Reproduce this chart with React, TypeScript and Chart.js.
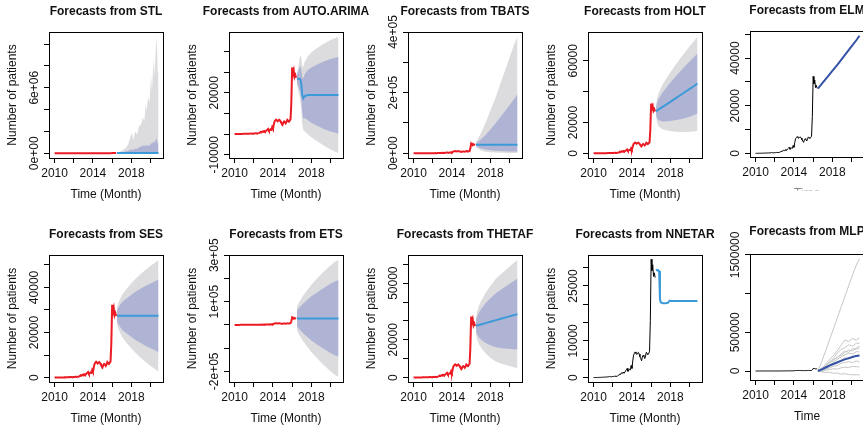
import React, { useEffect, useRef } from "react";
import { Chart, registerables } from "chart.js";
Chart.register(...registerables);

// ---------------- data ----------------
const X_TICKS = [2010, 2012, 2014, 2016, 2018, 2020];
const X_TICK_LABELS = ["2010", "", "2014", "", "2018", ""];

// monthly history, Jan 2010 .. Jun 2016
const HISTORY = [
  0, 0, 10, 20, 30, 30, 40, 50, 60, 60, 80, 100,
  100, 120, 120, 150, 150, 180, 200, 220, 300, 250, 200, 250,
  300, 280, 350, 400, 300, 350, 450, 600, 800, 1000, 900, 1300,
  1100, 1500, 1200, 1400, 1800, 2100, 2500, 1700, 1900, 2300, 2100, 3300,
  2500, 4500, 6100, 6600, 7000, 6600, 6300, 6700, 6900, 6400, 5700, 5200,
  4600, 5600, 6100, 5800, 5200, 5900, 6900, 6500, 6300, 6600, 7200, 15500,
  32300, 29200, 30800, 27600, 28600, 27300,
];
const HIST_T = HISTORY.map((_, i) => 2010 + i / 12);

// STL
const STL_T = [2016.5, 2016.8, 2017.2, 2017.5, 2017.7, 2017.9, 2018.05, 2018.2, 2018.4, 2018.6, 2018.8, 2019.0, 2019.2, 2019.35, 2019.5, 2019.6, 2019.75, 2019.9, 2020.05, 2020.15, 2020.3, 2020.4, 2020.55, 2020.65, 2020.75, 2020.83];
const STL_HI95 = [50000, 150000, 350000, 550000, 900000, 1500000, 1900000, 1200000, 2000000, 1700000, 2500000, 2600000, 3300000, 2900000, 4500000, 3900000, 5200000, 4600000, 7200000, 5600000, 8600000, 7000000, 9600000, 10660000, 7400000, 7500000];
const STL_HI80 = [40000, 80000, 120000, 180000, 250000, 300000, 380000, 300000, 450000, 400000, 550000, 600000, 720000, 650000, 780000, 700000, 720000, 680000, 950000, 850000, 1100000, 950000, 1250000, 1350000, 900000, 900000];
const STL_LO80 = [20000, 18000, 16000, 15000, 14000, 13000, 12000, 12000, 11000, 11000, 10000, 10000, 9000, 9000, 8000, 8000, 8000, 7000, 7000, 7000, 6000, 6000, 6000, 5000, 5000, 5000];
const STL_LO95 = [15000, 12000, 9000, 7000, 6000, 5000, 4000, 4000, 3000, 3000, 3000, 2000, 2000, 2000, 2000, 2000, 1000, 1000, 1000, 1000, 1000, 1000, 1000, 1000, 1000, 1000];
const STL_MEAN_T = [2016.5, 2020.83];
const STL_MEAN = [28000, 28000];
const STL_YTICKS = [0, 2000000, 4000000, 6000000, 8000000, 10000000];
const STL_YLABELS = ["0e+00", "", "", "6e+06", "", ""];

// AUTO.ARIMA
const ARIMA_T = [2016.5, 2016.62, 2016.75, 2016.85, 2016.95, 2017.05, 2017.15, 2017.3, 2017.6, 2018.0, 2018.6, 2019.3, 2020.0, 2020.83];
const ARIMA_MEAN = [26900, 26800, 26700, 26600, 24500, 19000, 17300, 18400, 18900, 18900, 18900, 18900, 18900, 18900];
const ARIMA_HI95 = [29500, 32000, 36000, 38200, 37000, 33000, 32500, 35000, 37500, 39500, 41800, 43800, 45600, 47200];
const ARIMA_LO95 = [24300, 21600, 18500, 16000, 12000, 5000, 2100, 1300, 0, -1500, -3500, -5500, -7500, -9300];
const ARIMA_HI80 = [28600, 30300, 32000, 33000, 31500, 27500, 27000, 29000, 31000, 32300, 33800, 35200, 36400, 37500];
const ARIMA_LO80 = [25200, 23300, 21500, 20000, 17000, 10500, 7600, 7800, 6800, 5500, 4000, 2500, 1300, 300];
const ARIMA_YTICKS = [-10000, 0, 10000, 20000, 30000, 40000];
const ARIMA_YLABELS = ["-10000", "", "", "20000", "", ""];

// TBATS
const TBATS_T = [2016.5, 2017.0, 2017.5, 2018.0, 2018.5, 2019.0, 2019.5, 2020.0, 2020.5, 2020.83];
const TBATS_MEAN = [27800, 27800, 27800, 27800, 27800, 27800, 27800, 27800, 27800, 27800];
const TBATS_HI95 = [36000, 65000, 100000, 140000, 180000, 225000, 270000, 315000, 360000, 385000];
const TBATS_HI80 = [32000, 45000, 60000, 78000, 97000, 117000, 138000, 158000, 180000, 195000];
const TBATS_LO80 = [24000, 16000, 12000, 9500, 8000, 7000, 6300, 5800, 5400, 5200];
const TBATS_LO95 = [21000, 9000, 5000, 3200, 2300, 1700, 1300, 1000, 800, 700];
const TBATS_YTICKS = [0, 100000, 200000, 300000, 400000];
const TBATS_YLABELS = ["0e+00", "", "2e+05", "", "4e+05"];

// HOLT
const HOLT_T = [2016.5, 2016.6, 2016.8, 2017.2, 2017.8, 2018.5, 2019.3, 2020.1, 2020.83];
const HOLT_MEAN = [27300, 27700, 28500, 30100, 32600, 35500, 38800, 42100, 45300];
const HOLT_HI95 = [29500, 35200, 39500, 44600, 50600, 57000, 63800, 70100, 75700];
const HOLT_LO95 = [25100, 20200, 17500, 15600, 14600, 14000, 13800, 14100, 14500];
const HOLT_HI80 = [28700, 32600, 35600, 39500, 44300, 49500, 55100, 60300, 64800];
const HOLT_LO80 = [25900, 22800, 21400, 20700, 20900, 21500, 22500, 23900, 25800];
const HOLT_YTICKS = [0, 20000, 40000, 60000];
const HOLT_YLABELS = ["0", "20000", "", "60000"];

// ELM
const ELM_T = [2016.5, 2017.0, 2017.5, 2018.0, 2018.5, 2019.0, 2019.5, 2020.0, 2020.5, 2020.83];
const ELM_MEAN = [27200, 29700, 32100, 34600, 37100, 39700, 42300, 44900, 47500, 49400];
const ELM_YTICKS = [0, 10000, 20000, 30000, 40000, 50000];
const ELM_YLABELS = ["0", "", "20000", "", "40000", ""];

// SES
const SES_T = [2016.5, 2016.58, 2016.67, 2016.83, 2017.0, 2017.25, 2017.5, 2018.0, 2018.5, 2019.0, 2019.5, 2020.0, 2020.5, 2020.83];
const SES_HI95 = [30800, 32200, 33300, 35000, 36400, 38000, 39300, 41900, 44100, 46100, 47900, 49600, 51100, 52200];
const SES_LO95 = [24000, 22600, 21500, 19800, 18400, 16800, 15500, 12900, 10700, 8700, 6900, 5200, 3700, 2600];
const SES_HI80 = [29600, 30500, 31200, 32300, 33300, 34300, 35100, 36800, 38300, 39500, 40800, 41800, 42800, 43500];
const SES_LO80 = [25200, 24300, 23600, 22500, 21500, 20500, 19700, 18000, 16500, 15300, 14000, 13000, 12000, 11300];
const SES_MEAN_T = [2016.5, 2020.83];
const SES_MEAN = [27400, 27400];
const SES_YTICKS = [0, 10000, 20000, 30000, 40000, 50000];
const SES_YLABELS = ["0", "", "20000", "", "40000", ""];

// ETS
const ETS_T = [2016.5, 2016.6, 2016.8, 2017.1, 2017.5, 2018.0, 2018.6, 2019.2, 2019.9, 2020.4, 2020.83];
const ETS_HI95 = [78000, 88000, 103000, 123000, 146000, 173000, 200000, 226000, 253000, 270000, 281000];
const ETS_LO95 = [-22000, -32000, -47000, -67000, -90000, -117000, -144000, -170000, -197000, -214000, -225000];
const ETS_HI80 = [61000, 67000, 77000, 90000, 105000, 123000, 140000, 157000, 175000, 186000, 193000];
const ETS_LO80 = [-5000, -11000, -21000, -34000, -49000, -67000, -84000, -101000, -119000, -130000, -137000];
const ETS_MEAN_T = [2016.5, 2020.83];
const ETS_MEAN = [28000, 28000];
const ETS_YTICKS = [-200000, -100000, 0, 100000, 200000, 300000];
const ETS_YLABELS = ["-2e+05", "", "", "1e+05", "", "3e+05"];

// THETAF
const THETA_T = [2016.5, 2016.6, 2016.8, 2017.1, 2017.5, 2018.0, 2018.6, 2019.2, 2019.9, 2020.4, 2020.83];
const THETA_MEAN = [27400, 27550, 27830, 28260, 28830, 29550, 30400, 31260, 32260, 32980, 33600];
const THETA_HI95 = [30900, 34550, 37830, 41260, 44830, 48550, 52400, 55260, 58260, 60480, 62300];
const THETA_LO95 = [23900, 20550, 17830, 15260, 12830, 10550, 8400, 7260, 6260, 5480, 4900];
const THETA_HI80 = [29700, 32150, 34330, 36760, 39330, 41950, 44800, 46960, 49260, 50980, 52400];
const THETA_LO80 = [25100, 22950, 21330, 19760, 18330, 17150, 16000, 15560, 15260, 14980, 14800];
const THETA_YTICKS = [0, 10000, 20000, 30000, 40000, 50000, 60000];
const THETA_YLABELS = ["0", "", "20000", "", "", "50000", ""];

// NNETAR
const NNETAR_T = [2016.5, 2016.58, 2016.67, 2016.75, 2016.83, 2016.92, 2017.0, 2017.25, 2017.5, 2017.75, 2017.83, 2017.92, 2018.0, 2018.5, 2019.0, 2019.5, 2020.0, 2020.5, 2020.83];
const NNETAR_MEAN = [29300, 29400, 29200, 29300, 29100, 21500, 20500, 20300, 20300, 20400, 20700, 21000, 20900, 20900, 20900, 20900, 20900, 20900, 20900];
const NNETAR_YTICKS = [0, 5000, 10000, 15000, 20000, 25000, 30000];
const NNETAR_YLABELS = ["0", "", "10000", "", "", "25000", ""];

// MLP
const MLP_T = [2016.5, 2016.9, 2017.3, 2017.7, 2018.1, 2018.5, 2018.9, 2019.3, 2019.7, 2020.1, 2020.5, 2020.83];
const MLP_MEMBERS = [
  [0, 120000, 260000, 400000, 540000, 680000, 820000, 960000, 1100000, 1240000, 1370000, 1450000],
  [0, 30000, 90000, 150000, 200000, 260000, 330000, 400000, 380000, 420000, 400000, 430000],
  [0, 20000, 60000, 120000, 160000, 230000, 280000, 300000, 340000, 320000, 360000, 355000],
  [0, 40000, 50000, 100000, 150000, 170000, 220000, 260000, 240000, 290000, 280000, 300000],
  [0, 10000, 40000, 80000, 110000, 150000, 180000, 210000, 230000, 220000, 250000, 246000],
  [0, 15000, 30000, 60000, 90000, 120000, 140000, 170000, 160000, 190000, 200000, 205000],
  [0, 5000, 20000, 40000, 60000, 70000, 100000, 110000, 120000, 110000, 130000, 117000],
  [0, -5000, 10000, 20000, 30000, 25000, 40000, 50000, 45000, 60000, 55000, 52000],
  [0, -10000, -20000, -15000, -30000, -25000, -40000, -35000, -45000, -50000, -48000, -51000],
  [0, 25000, 70000, 110000, 130000, 180000, 200000, 240000, 270000, 260000, 300000, 320000],
];
const MLP_MEAN = [0, 20000, 45000, 70000, 90000, 110000, 130000, 150000, 165000, 180000, 195000, 200000];
const MLP_YTICKS = [0, 500000, 1000000, 1500000];
const MLP_YLABELS = ["0", "500000", "", "1500000"];

// ---------------- styles ----------------
const RED = "#ec1c24";
const FC_BLUE = "#3d9ad8";
const NN_BLUE = "#3553a6";
const BAND80 = "#b0b4d4";
const BAND95 = "#dcdcdf";
const MEMBER = "#c6c6c6";
const X_MIN = 2009.42;
const X_MAX = 2021.3;
const FONT = '"Liberation Sans", Arial, sans-serif';

interface Line { t: number[]; v: number[]; color: string; width: number; }
interface Band { t: number[]; lo: number[]; hi: number[]; color: string; }
interface PanelCfg {
  title: string; xlab: string; ylab: string;
  boxLeft: number; boxTop: number; boxBottom: number; canvasTop: number;
  ymin: number; ymax: number; yticks: number[]; ylabels: string[];
  bands: Band[]; lines: Line[];
  titleOffset?: number; xlabClip?: number;
}

const hist = (color: string, width: number): Line => ({ t: HIST_T, v: HISTORY, color, width });
const bands = (t: number[], lo95: number[], hi95: number[], lo80: number[], hi80: number[]): Band[] => [
  { t, lo: lo95, hi: hi95, color: BAND95 },
  { t, lo: lo80, hi: hi80, color: BAND80 },
];

const COLS = [49, 229, 408, 588, 750];

const PANELS: PanelCfg[] = [
  {
    title: "Forecasts from STL", xlab: "Time (Month)", ylab: "Number of patients",
    boxLeft: COLS[0], boxTop: 32, boxBottom: 158, canvasTop: 0,
    ymin: -430000, ymax: 11100000, yticks: STL_YTICKS, ylabels: STL_YLABELS,
    bands: bands(STL_T, STL_LO95, STL_HI95, STL_LO80, STL_HI80),
    lines: [hist(RED, 2), { t: STL_MEAN_T, v: STL_MEAN, color: FC_BLUE, width: 2 }],
  },
  {
    title: "Forecasts from AUTO.ARIMA", xlab: "Time (Month)", ylab: "Number of patients",
    boxLeft: COLS[1], boxTop: 32, boxBottom: 158, canvasTop: 0,
    ymin: -11600, ymax: 49500, yticks: ARIMA_YTICKS, ylabels: ARIMA_YLABELS,
    bands: bands(ARIMA_T, ARIMA_LO95, ARIMA_HI95, ARIMA_LO80, ARIMA_HI80),
    lines: [hist(RED, 2), { t: ARIMA_T, v: ARIMA_MEAN, color: FC_BLUE, width: 2 }],
  },
  {
    title: "Forecasts from TBATS", xlab: "Time (Month)", ylab: "Number of patients",
    boxLeft: COLS[2], boxTop: 32, boxBottom: 158, canvasTop: 0,
    ymin: -15700, ymax: 400000, yticks: TBATS_YTICKS, ylabels: TBATS_YLABELS,
    bands: bands(TBATS_T, TBATS_LO95, TBATS_HI95, TBATS_LO80, TBATS_HI80),
    lines: [hist(RED, 2), { t: TBATS_T, v: TBATS_MEAN, color: FC_BLUE, width: 2 }],
  },
  {
    title: "Forecasts from HOLT", xlab: "Time (Month)", ylab: "Number of patients",
    boxLeft: COLS[3], boxTop: 32, boxBottom: 158, canvasTop: 0,
    ymin: -3000, ymax: 78700, yticks: HOLT_YTICKS, ylabels: HOLT_YLABELS,
    bands: bands(HOLT_T, HOLT_LO95, HOLT_HI95, HOLT_LO80, HOLT_HI80),
    lines: [hist(RED, 2), { t: HOLT_T, v: HOLT_MEAN, color: FC_BLUE, width: 2 }],
  },
  {
    title: "Forecasts from ELM", xlab: "Time", ylab: "",
    boxLeft: COLS[4], boxTop: 31, boxBottom: 157, canvasTop: 0,
    ymin: -1550, ymax: 51400, yticks: ELM_YTICKS, ylabels: ELM_YLABELS,
    bands: [],
    lines: [hist("#000", 1), { t: ELM_T, v: ELM_MEAN, color: NN_BLUE, width: 2 }],
    xlabClip: 190.5,
  },
  {
    title: "Forecasts from SES", xlab: "Time (Month)", ylab: "Number of patients",
    boxLeft: COLS[0], boxTop: 255, boxBottom: 382, canvasTop: 214,
    ymin: -1950, ymax: 54400, yticks: SES_YTICKS, ylabels: SES_YLABELS,
    bands: bands(SES_T, SES_LO95, SES_HI95, SES_LO80, SES_HI80),
    lines: [hist(RED, 2), { t: SES_MEAN_T, v: SES_MEAN, color: FC_BLUE, width: 2 }],
  },
  {
    title: "Forecasts from ETS", xlab: "Time (Month)", ylab: "Number of patients",
    boxLeft: COLS[1], boxTop: 255, boxBottom: 382, canvasTop: 214,
    ymin: -246000, ymax: 301000, yticks: ETS_YTICKS, ylabels: ETS_YLABELS,
    bands: bands(ETS_T, ETS_LO95, ETS_HI95, ETS_LO80, ETS_HI80),
    lines: [hist(RED, 2), { t: ETS_MEAN_T, v: ETS_MEAN, color: FC_BLUE, width: 2 }],
  },
  {
    title: "Forecasts from THETAF", xlab: "Time (Month)", ylab: "Number of patients",
    boxLeft: COLS[2], boxTop: 255, boxBottom: 382, canvasTop: 214,
    ymin: -2350, ymax: 64900, yticks: THETA_YTICKS, ylabels: THETA_YLABELS,
    bands: bands(THETA_T, THETA_LO95, THETA_HI95, THETA_LO80, THETA_HI80),
    lines: [hist(RED, 2), { t: THETA_T, v: THETA_MEAN, color: FC_BLUE, width: 2 }],
  },
  {
    title: "Forecasts from NNETAR", xlab: "Time (Month)", ylab: "Number of patients",
    boxLeft: COLS[3], boxTop: 255, boxBottom: 382, canvasTop: 214,
    ymin: -1210, ymax: 33460, yticks: NNETAR_YTICKS, ylabels: NNETAR_YLABELS,
    bands: [],
    lines: [hist("#000", 1), { t: NNETAR_T, v: NNETAR_MEAN, color: FC_BLUE, width: 2 }],
  },
  {
    title: "Forecasts from MLP", xlab: "Time", ylab: "",
    boxLeft: COLS[4], boxTop: 254, boxBottom: 380, canvasTop: 214,
    ymin: -116280, ymax: 1511700, yticks: MLP_YTICKS, ylabels: MLP_YLABELS,
    bands: [],
    lines: [
      hist("#000", 1),
      ...MLP_MEMBERS.map((m) => ({ t: MLP_T, v: m, color: MEMBER, width: 1 })),
      { t: MLP_T, v: MLP_MEAN, color: NN_BLUE, width: 2 },
    ],
    titleOffset: 22,
  },
];

const CW = 205;
const CH = 214;
const BOX_W = 114;

function pts(t: number[], v: number[]) {
  return t.map((x, i) => ({ x, y: v[i] }));
}

function buildDatasets(p: PanelCfg) {
  const ds: any[] = [];
  p.bands.forEach((b) => {
    const loIdx = ds.length;
    ds.push({ data: pts(b.t, b.lo), borderColor: "rgba(0,0,0,0)", borderWidth: 1, pointRadius: 0, fill: false });
    ds.push({ data: pts(b.t, b.hi), borderColor: "rgba(0,0,0,0)", borderWidth: 1, pointRadius: 0, fill: loIdx, backgroundColor: b.color });
  });
  p.lines.forEach((l) => {
    ds.push({ data: pts(l.t, l.v), borderColor: l.color, borderWidth: l.width, pointRadius: 0, fill: false, tension: 0 });
  });
  const n = ds.length;
  ds.forEach((d, i) => { d.order = n - i; });
  return ds;
}

function makeTextPlugin(p: PanelCfg) {
  return {
    id: "rtext",
    afterDraw(chart: any) {
      const { ctx, chartArea: a, scales } = chart;
      const xs = scales.x, ys = scales.y;
      const al = (v: number) => Math.round(v - 0.5) + 0.5;
      ctx.save();
      ctx.strokeStyle = "#000";
      ctx.lineWidth = 1;
      ctx.strokeRect(al(a.left), al(a.top), al(a.right) - al(a.left), al(a.bottom) - al(a.top));
      ctx.fillStyle = "#111";
      ctx.textBaseline = "middle";
      ctx.textAlign = "center";
      const cx = (a.left + a.right) / 2;
      const cy = (a.top + a.bottom) / 2;
      ctx.font = `bold 12px ${FONT}`;
      ctx.fillText(p.title, cx, a.top - (p.titleOffset ?? 20));
      ctx.font = `12px ${FONT}`;
      X_TICKS.forEach((v, i) => {
        const lab = X_TICK_LABELS[i];
        if (lab) ctx.fillText(lab, xs.getPixelForValue(v), a.bottom + 15.5);
      });
      p.yticks.forEach((v, i) => {
        const lab = p.ylabels[i];
        if (!lab) return;
        ctx.save();
        ctx.translate(a.left - 14, ys.getPixelForValue(v));
        ctx.rotate(-Math.PI / 2);
        ctx.fillText(lab, 0, 0);
        ctx.restore();
      });
      if (p.ylab) {
        ctx.save();
        ctx.translate(a.left - 36, cy);
        ctx.rotate(-Math.PI / 2);
        ctx.fillText(p.ylab, 0, 0);
        ctx.restore();
      }
      ctx.save();
      if (p.xlabClip !== undefined) {
        ctx.beginPath();
        ctx.rect(0, 0, chart.width, p.xlabClip - p.canvasTop);
        ctx.clip();
        ctx.fillStyle = "#888";
      }
      ctx.fillText(p.xlab, cx, a.bottom + 36.5);
      ctx.restore();
      ctx.restore();
    },
  };
}

function PanelChart({ p }: { p: PanelCfg }) {
  const ref = useRef<HTMLCanvasElement>(null);
  useEffect(() => {
    const padTop = p.boxTop - p.canvasTop;
    const padBottom = CH - (p.boxBottom - p.canvasTop) - 5;
    const chart = new Chart(ref.current as HTMLCanvasElement, {
      type: "line",
      data: { datasets: buildDatasets(p) },
      options: {
        responsive: false,
        devicePixelRatio: 1,
        animation: false,
        events: [],
        layout: { padding: { left: 44, right: CW - 49 - BOX_W, top: padTop, bottom: padBottom } },
        plugins: { legend: { display: false }, tooltip: { enabled: false }, title: { display: false }, filler: { propagate: false } },
        scales: {
          x: {
            type: "linear", min: X_MIN, max: X_MAX,
            afterBuildTicks: (axis: any) => { axis.ticks = X_TICKS.map((v) => ({ value: v })); },
            ticks: { display: false },
            grid: { drawOnChartArea: false, drawTicks: true, tickLength: 5, color: "#000", lineWidth: 1 },
            border: { display: true, color: "#000", width: 1 },
          },
          y: {
            type: "linear", min: p.ymin, max: p.ymax,
            afterBuildTicks: (axis: any) => { axis.ticks = p.yticks.map((v) => ({ value: v })); },
            ticks: { display: false },
            grid: { drawOnChartArea: false, drawTicks: true, tickLength: 5, color: "#000", lineWidth: 1 },
            border: { display: true, color: "#000", width: 1 },
          },
        },
      } as any,
      plugins: [makeTextPlugin(p)],
    });
    return () => chart.destroy();
  }, []);
  return (
    <canvas
      ref={ref}
      width={CW}
      height={CH}
      style={{ position: "absolute", left: p.boxLeft - 49, top: p.canvasTop, width: CW, height: CH }}
    />
  );
}

export default function App() {
  return (
    <div style={{ position: "fixed", left: 0, top: 0, width: 863, height: 428, overflow: "hidden", background: "#fff" }}>
      {PANELS.map((p, i) => <PanelChart key={i} p={p} />)}
    </div>
  );
}
